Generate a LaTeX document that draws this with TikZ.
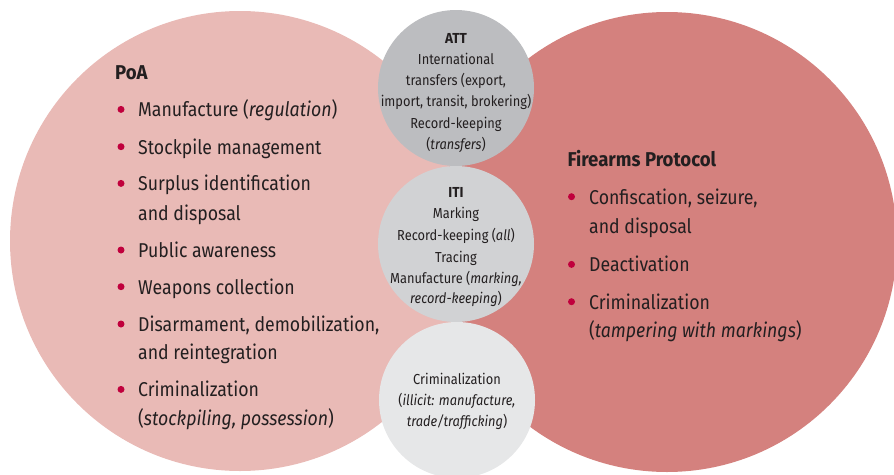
\documentclass[tikz,border=0pt]{standalone}
\usepackage{fontspec}
\setmainfont{Fira Sans}[FakeStretch=0.885, BoldFeatures={FakeStretch=0.93}]
\definecolor{poafill}{HTML}{E9BAB6}
\definecolor{fpfill}{HTML}{D4817E}
\definecolor{attfill}{HTML}{BCBDC0}
\definecolor{itifill}{HTML}{D1D2D4}
\definecolor{crimfill}{HTML}{E6E7E8}
\definecolor{bulletred}{HTML}{C0003C}
\definecolor{ink}{HTML}{231F20}
\tikzset{
  bigtxt/.style={anchor=base west, inner sep=0pt, text=ink, font=\fontsize{20}{24}\selectfont},
  headtxt/.style={anchor=base west, inner sep=0pt, text=ink, font=\fontsize{20}{24}\selectfont\bfseries},
  smalltxt/.style={anchor=base, inner sep=0pt, text=ink, font=\fontsize{14.5}{18}\selectfont},
  smallhead/.style={anchor=base, inner sep=0pt, text=ink, font=\fontsize{14.5}{18}\selectfont\bfseries},
  bulletdot/.style={circle, fill=bulletred, inner sep=0pt, minimum size=7pt},
  disc/.style={circle, inner sep=0pt, draw=none}
}
\begin{document}
\begin{tikzpicture}[x=1pt,y=-1pt]
\useasboundingbox (0,0) rectangle (894,474);
% big circles
\node[disc, fill=poafill, minimum size=460pt] (poa) at (240,241) {};
\node[disc, fill=fpfill, minimum size=460pt] (fp) at (667,242) {};
% small circles
\node[disc, fill=attfill, minimum size=156pt] (att) at (456,88) {};
\node[disc, fill=itifill, minimum size=156pt] (iti) at (456,244) {};
\node[disc, fill=crimfill, minimum size=156pt] (crim) at (457,400) {};

% PoA
\node[headtxt] (poah) at (115,79.3) {PoA};
\node[bulletdot] (pb1) at (121,109.4) {};
\node[bigtxt] (p1) at (138,116.7) {Manufacture (\textit{regulation})};
\node[bulletdot] (pb2) at (121,146.7) {};
\node[bigtxt] (p2) at (138,154) {Stockpile management};
\node[bulletdot] (pb3) at (121,183.4) {};
\node[bigtxt] (p3a) at (138,190.7) {Surplus identification};
\node[bigtxt] (p3b) at (138,220) {and disposal};
\node[bulletdot] (pb4) at (121,250) {};
\node[bigtxt] (p4) at (138,257.3) {Public awareness};
\node[bulletdot] (pb5) at (121,286.7) {};
\node[bigtxt] (p5) at (138,294) {Weapons collection};
\node[bulletdot] (pb6) at (121,324) {};
\node[bigtxt] (p6a) at (138,331.3) {Disarmament, demobilization,};
\node[bigtxt] (p6b) at (138,359) {and reintegration};
\node[bulletdot] (pb7) at (121,389.4) {};
\node[bigtxt] (p7a) at (138,396.7) {Criminalization};
\node[bigtxt] (p7b) at (138,425.7) {(\textit{stockpiling, possession})};

% Firearms Protocol
\node[headtxt] (fph) at (567.3,166.7) {Firearms Protocol};
\node[bulletdot] (fb1) at (571.5,196.7) {};
\node[bigtxt] (f1a) at (589,204) {Confiscation, seizure,};
\node[bigtxt] (f1b) at (589,233.3) {and disposal};
\node[bulletdot] (fb2) at (571.5,264.4) {};
\node[bigtxt] (f2) at (589,271.7) {Deactivation};
\node[bulletdot] (fb3) at (571.5,301.7) {};
\node[bigtxt] (f3a) at (589,309) {Criminalization};
\node[bigtxt] (f3b) at (589,337.3) {(\textit{tampering with markings})};

% ATT
\node[smallhead] (atth) at (456,43) {ATT};
\node[smalltxt] (a1) at (456,64) {International};
\node[smalltxt] (a2) at (456,85) {transfers (export,};
\node[smalltxt] (a3) at (456,106.5) {import, transit, brokering)};
\node[smalltxt] (a4) at (456,128) {Record-keeping};
\node[smalltxt] (a5) at (456,149) {(\textit{transfers})};

% ITI
\node[smallhead] (itih) at (456,197.3) {ITI};
\node[smalltxt] (i1) at (456,218.5) {Marking};
\node[smalltxt] (i2) at (456,240) {Record-keeping (\textit{all})};
\node[smalltxt] (i3) at (456,262) {Tracing};
\node[smalltxt] (i4) at (456,283.3) {Manufacture (\textit{marking,}};
\node[smalltxt] (i5) at (456,303.5) {\textit{record-keeping})};

% Criminalization
\node[smalltxt] (c1) at (457,384.7) {Criminalization};
\node[smalltxt] (c2) at (457,405.7) {(\textit{illicit: manufacture,}};
\node[smalltxt] (c3) at (457,426.7) {\textit{trade/trafficking})};
\end{tikzpicture}
\end{document}
